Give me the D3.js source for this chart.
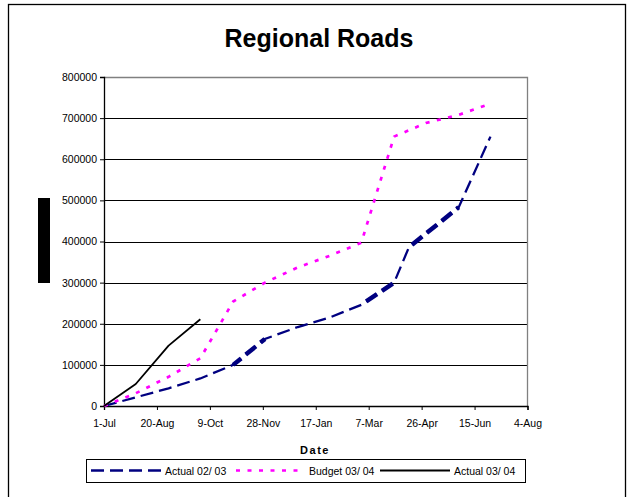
<!DOCTYPE html>
<html>
<head>
<meta charset="utf-8">
<script src="https://cdn.jsdelivr.net/npm/d3@7"></script>
<style>
  html, body { margin: 0; padding: 0; background: #fff; }
  svg { display: block; font-family: "Liberation Sans", Arial, sans-serif; }
</style>
</head>
<body>
<svg id="chart" width="631" height="497"></svg>
<script>
// Cumulative spend on regional roads, plotted against the 2003/04 financial year
const chartTitle = "Regional Roads";
const xAxisTitle = "Date";

const actual0203Dates = ["2003-07-01", "2003-07-31", "2003-08-31", "2003-09-30", "2003-10-31", "2003-11-30",
  "2003-12-31", "2004-01-31", "2004-02-29", "2004-03-31", "2004-04-14", "2004-05-31", "2004-06-30"];
const actual0203Values = [0, 21000, 43000, 67000, 100000, 163000, 192000, 216000, 246000, 300000, 386000, 483000, 655000];

const budget0304Dates = ["2003-07-01", "2003-07-31", "2003-08-31", "2003-09-30", "2003-10-31", "2003-11-30",
  "2003-12-31", "2004-01-31", "2004-02-29", "2004-03-31", "2004-04-30", "2004-05-31", "2004-06-30"];
const budget0304Values = [0, 31000, 71000, 116000, 254000, 300000, 337000, 366000, 397000, 655000, 688000, 708000, 735000];

const actual0304Dates = ["2003-07-01", "2003-07-31", "2003-08-31", "2003-09-30"];
const actual0304Values = [0, 53500, 146700, 211000];

const seriesNames = ["Actual 02/ 03", "Budget 03/ 04", "Actual 03/ 04"];

const xTickDates = ["2003-07-01", "2003-08-20", "2003-10-09", "2003-11-28", "2004-01-17",
  "2004-03-07", "2004-04-26", "2004-06-15", "2004-08-04"];
const yTickValues = [0, 100000, 200000, 300000, 400000, 500000, 600000, 700000, 800000];

const parse = d3.utcParse("%Y-%m-%d");
const fmtDate = d3.utcFormat("%-d-%b");

const svg = d3.select("#chart");
const plot = { left: 104, right: 527.5, top: 77, bottom: 406 };

const x = d3.scaleUtc()
  .domain([parse(xTickDates[0]), parse(xTickDates[xTickDates.length - 1])])
  .range([plot.left, plot.right]);
const y = d3.scaleLinear().domain([0, 800000]).range([plot.bottom, plot.top]);

// chart frame
svg.append("rect").attr("x", 0).attr("y", 0).attr("width", 631).attr("height", 497).attr("fill", "#fff");
svg.append("rect").attr("x", 8.5).attr("y", 4.5).attr("width", 617).attr("height", 510)
  .attr("fill", "none").attr("stroke", "#000").attr("stroke-width", 1.3);

// title
svg.append("text").attr("x", 319).attr("y", 46.5).attr("text-anchor", "middle")
  .attr("font-size", 25).attr("font-weight", "bold").text(chartTitle);

// vertical block beside the value axis
svg.append("rect").attr("x", 38).attr("y", 198).attr("width", 12).attr("height", 85).attr("fill", "#000");

// horizontal gridlines
svg.append("g").selectAll("line").data(yTickValues.slice(1, -1)).join("line")
  .attr("x1", plot.left).attr("x2", plot.right)
  .attr("y1", d => Math.round(y(d)) + 0.5).attr("y2", d => Math.round(y(d)) + 0.5)
  .attr("stroke", "#000").attr("stroke-width", 1);

// plot border (top and right)
svg.append("path")
  .attr("d", `M${plot.left},${plot.top + 0.5}H${plot.right}V${plot.bottom}`)
  .attr("fill", "none").attr("stroke", "#808080").attr("stroke-width", 1.3);

// y axis
const yAxis = d3.axisLeft(y).tickValues(yTickValues).tickSize(4).tickPadding(3).tickFormat(d3.format("d"));
const gy = svg.append("g").attr("transform", `translate(${plot.left},0)`).call(yAxis);
gy.select(".domain").attr("stroke", "#000").attr("stroke-width", 1.3);
gy.selectAll(".tick line").attr("stroke", "#000");
gy.selectAll(".tick text").attr("font-size", 10.5).attr("font-family", "Liberation Sans, Arial, sans-serif").attr("fill", "#000");

// x axis
const xAxis = d3.axisBottom(x).tickValues(xTickDates.map(parse)).tickSize(4).tickPadding(10).tickFormat(fmtDate);
const gx = svg.append("g").attr("transform", `translate(0,${plot.bottom})`).call(xAxis);
gx.select(".domain").attr("stroke", "#000").attr("stroke-width", 1.3);
gx.selectAll(".tick line").attr("stroke", "#000");
gx.selectAll(".tick text").attr("font-size", 10.5).attr("font-family", "Liberation Sans, Arial, sans-serif").attr("fill", "#000");

// axis title
svg.append("text").attr("x", 315).attr("y", 454).attr("text-anchor", "middle")
  .attr("font-size", 11).attr("font-weight", "bold").attr("letter-spacing", 1.5).text(xAxisTitle);

const line = d3.line().x(d => x(d.date)).y(d => y(d.value));
const toPoints = (dates, values) => dates.map((d, i) => ({ date: parse(d), value: values[i] }));

const navyDash = "13,6";
const pinkDash = "4,7.5";

// Actual 02/03 - long dashes; mid-slope runs render heavier
const navyPts = toPoints(actual0203Dates, actual0203Values);
svg.append("path").datum(navyPts).attr("d", line)
  .attr("fill", "none").attr("stroke", "#000080").attr("stroke-width", 2.3)
  .attr("stroke-dasharray", navyDash);
let run = 0;
for (let i = 0; i < navyPts.length - 1; i++) {
  const x0 = x(navyPts[i].date), y0 = y(navyPts[i].value);
  const x1 = x(navyPts[i + 1].date), y1 = y(navyPts[i + 1].value);
  const len = Math.hypot(x1 - x0, y1 - y0);
  const ang = Math.atan2(Math.abs(y1 - y0), Math.abs(x1 - x0)) * 180 / Math.PI;
  if (ang > 25 && ang < 55) {
    svg.append("path").datum([navyPts[i], navyPts[i + 1]]).attr("d", line)
      .attr("fill", "none").attr("stroke", "#000080").attr("stroke-width", 4.5)
      .attr("stroke-dasharray", navyDash).attr("stroke-dashoffset", run);
  }
  run += len;
}

// Budget 03/04 - magenta dots
svg.append("path").datum(toPoints(budget0304Dates, budget0304Values)).attr("d", line)
  .attr("fill", "none").attr("stroke", "#FF00FF").attr("stroke-width", 2.7)
  .attr("stroke-dasharray", pinkDash);

// Actual 03/04 - solid black
svg.append("path").datum(toPoints(actual0304Dates, actual0304Values)).attr("d", line)
  .attr("fill", "none").attr("stroke", "#000").attr("stroke-width", 1.8)
  .attr("stroke-linejoin", "round");

// legend
const lg = svg.append("g");
lg.append("rect").attr("x", 86.5).attr("y", 459.5).attr("width", 439).attr("height", 23)
  .attr("fill", "#fff").attr("stroke", "#000").attr("stroke-width", 1);
const legendItems = [
  { name: seriesNames[0], x0: 91, x1: 162, tx: 165, stroke: "#000080", w: 2.3, dash: navyDash },
  { name: seriesNames[1], x0: 236, x1: 305, tx: 309, stroke: "#FF00FF", w: 2.7, dash: pinkDash },
  { name: seriesNames[2], x0: 380, x1: 450, tx: 454, stroke: "#000", w: 1.8, dash: null }
];
legendItems.forEach(it => {
  lg.append("line").attr("x1", it.x0).attr("x2", it.x1).attr("y1", 470.5).attr("y2", 470.5)
    .attr("stroke", it.stroke).attr("stroke-width", it.w)
    .attr("stroke-dasharray", it.dash);
  lg.append("text").attr("x", it.tx).attr("y", 474.5).attr("font-size", 10.5).text(it.name);
});
</script>
</body>
</html>
